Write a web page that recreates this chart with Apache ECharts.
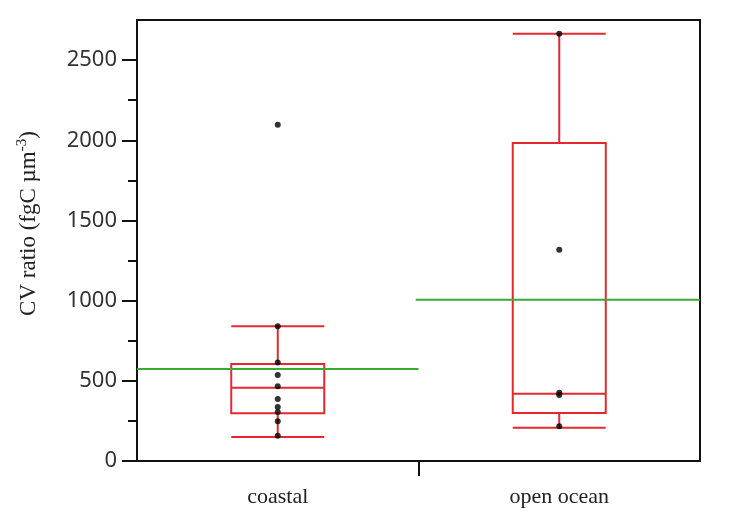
<!DOCTYPE html>
<html><head><meta charset="utf-8">
<script src="https://cdn.jsdelivr.net/npm/echarts@6/dist/echarts.min.js"></script>
<style>html,body{margin:0;padding:0;background:#fff}#c{width:729px;height:508px}</style>
</head><body><div id="c"></div>
<script>
const categories = ['coastal', 'open ocean'];
// box stats: [lower whisker, Q1, median, Q3, upper whisker]
const boxStats = [
  [149, 297, 456, 605, 840],
  [208, 299, 420, 1983, 2665]
];
const coastalPoints = [840, 615, 537, 466, 386, 336, 305, 248, 158, 2097];
const oceanPoints = [2665, 1318, 425, 412, 217];
const means = [574, 1005];
const majorTicks = [0, 500, 1000, 1500, 2000, 2500];
const minorTicks = [250, 750, 1250, 1750, 2250];

const RED = '#e4282e', GREEN = '#3aa935';
const chart = echarts.init(document.getElementById('c'));
const pts = [];
coastalPoints.forEach(v => pts.push([0, v]));
oceanPoints.forEach(v => pts.push([1, v]));
chart.setOption({
  animation: false,
  grid: {left: 137, right: 29, top: 20, bottom: 44, show: true, borderColor: '#111', borderWidth: 2, backgroundColor: 'transparent'},
  xAxis: [{
    type: 'category', data: categories, boundaryGap: true,
    axisLine: {lineStyle: {color: '#111', width: 2}},
    axisTick: {show: false},
    axisLabel: {margin: 25, fontFamily: 'Liberation Serif', fontSize: 22, color: '#222'},
    splitLine: {show: false}
  }, {
    type: 'value', min: 0, max: 2, position: 'bottom',
    axisLine: {show: false},
    axisTick: {show: true, length: 15, lineStyle: {color: '#111', width: 2}, customValues: [1]},
    axisLabel: {show: false},
    splitLine: {show: false}
  }],
  yAxis: [{
    type: 'value', min: 0, max: 2750,
    axisLine: {show: true, lineStyle: {color: '#111', width: 2}},
    axisTick: {show: true, length: 15, lineStyle: {color: '#111', width: 2}, customValues: majorTicks},
    axisLabel: {margin: 20, fontFamily: 'Noto Sans', fontSize: 22, color: '#333', customValues: majorTicks,
      formatter: v => String(v)},
    splitLine: {show: false},
    name: '{a|CV ratio (fgC µm}{s|-3}{a|)}',
    nameLocation: 'middle', nameGap: 95, nameRotate: 90,
    nameTextStyle: {
      padding: [0, 0, 0, 34],
      rich: {
        a: {fontFamily: 'Liberation Serif', fontSize: 23, color: '#222'},
        s: {fontFamily: 'Liberation Serif', fontSize: 15, color: '#222', verticalAlign: 'top', padding: [0, 0, 12, 0]}
      }
    }
  }, {
    type: 'value', min: 0, max: 2750, position: 'left',
    axisLine: {show: false},
    axisTick: {show: true, length: 9, lineStyle: {color: '#111', width: 2}, customValues: minorTicks},
    axisLabel: {show: false},
    splitLine: {show: false}
  }],
  series: [{
    type: 'boxplot', xAxisIndex: 0, yAxisIndex: 0,
    boxWidth: [93, 93],
    itemStyle: {color: 'transparent', borderColor: RED, borderWidth: 2},
    data: boxStats
  }, {
    type: 'line', xAxisIndex: 1, yAxisIndex: 0, symbol: 'none',
    lineStyle: {color: GREEN, width: 2},
    data: [[0, means[0]], [1, means[0]]]
  }, {
    type: 'line', xAxisIndex: 1, yAxisIndex: 0, symbol: 'none',
    lineStyle: {color: GREEN, width: 2},
    data: [[0.99, means[1]], [2, means[1]]]
  }, {
    type: 'scatter', xAxisIndex: 0, yAxisIndex: 0,
    symbolSize: 6, itemStyle: {color: '#000'},
    data: pts, z: 5
  }]
});
</script></body></html>
